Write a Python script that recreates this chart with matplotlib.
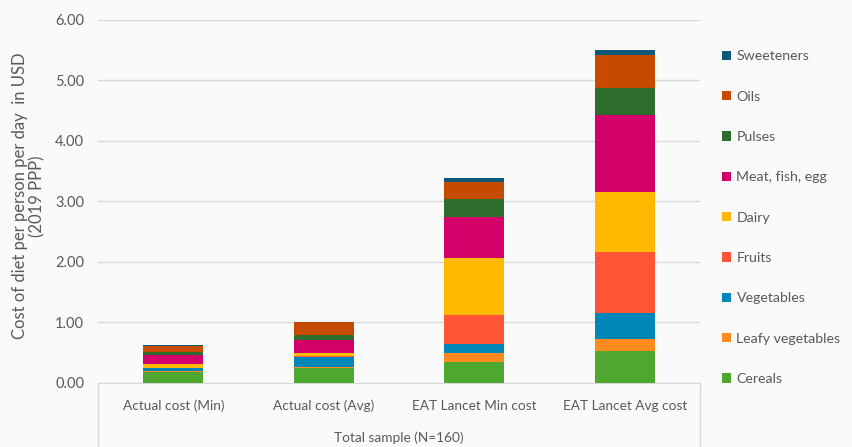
import numpy as np
import matplotlib
matplotlib.use('Agg')
import matplotlib.pyplot as plt
from matplotlib.patches import Patch
from matplotlib.lines import Line2D

plt.rcParams['font.family'] = ['Lato', 'DejaVu Sans']

# 식품군별 하루 식단 비용 (USD, 2019 PPP)
categories = ['Actual cost (Min)', 'Actual cost (Avg)', 'EAT Lancet Min cost', 'EAT Lancet Avg cost']
groups = ['Cereals', 'Leafy vegetables', 'Vegetables', 'Fruits', 'Dairy',
          'Meat, fish, egg', 'Pulses', 'Oils', 'Sweeteners']

cereals    = [0.18, 0.25, 0.35, 0.53]
leafy_veg  = [0.01, 0.01, 0.145, 0.19]
vegetables = [0.05, 0.17, 0.155, 0.435]
fruits     = [0.01, 0.01, 0.47, 1.01]
dairy      = [0.065, 0.055, 0.95, 0.99]
meat       = [0.15, 0.21, 0.67, 1.27]
pulses     = [0.05, 0.08, 0.30, 0.455]
oils       = [0.10, 0.215, 0.29, 0.54]
sweeteners = [0.01, 0.005, 0.055, 0.08]

colors = ['#4EA72E', '#FF8A1E', '#0086B8', '#FF5436', '#FFBA00',
          '#D4006A', '#2D6E2D', '#C64A00', '#0D5A78']

series = [cereals, leafy_veg, vegetables, fruits, dairy, meat, pulses, oils, sweeteners]

bg = '#FAFAFA'
txt = '#595959'
fig = plt.figure(figsize=(8.53, 4.47), dpi=100, facecolor=bg)
ax = fig.add_axes([0.1149, 0.1432, 0.7057, 0.8121], facecolor=bg)

x = np.arange(len(categories))
bottom = np.zeros(len(categories))
for vals, c in zip(series, colors):
    ax.bar(x, vals, width=0.4, bottom=bottom, color=c, zorder=3)
    bottom += np.array(vals)

ax.set_xlim(-0.5, 3.5)
ax.set_ylim(0, 6)
ax.set_yticks(np.arange(0, 6.01, 1))
ax.set_yticklabels(['%.2f' % v for v in np.arange(0, 6.01, 1)])
ax.grid(axis='y', color='#D9D9D9', lw=1, zorder=0)
ax.set_xticks(x)
ax.set_xticklabels(categories, fontsize=9.8)
ax.tick_params(axis='both', length=0, colors=txt)
ax.tick_params(axis='y', pad=10, labelsize=10.5)
ax.tick_params(axis='x', pad=12)
for s in ['top', 'right', 'left']:
    ax.spines[s].set_visible(False)
ax.spines['bottom'].set_color('#D9D9D9')

ax.set_ylabel('Cost of diet per person per day  in USD\n(2019 PPP)', color=txt,
              fontsize=12, linespacing=1.1)
ax.yaxis.set_label_coords(-0.088, 0.515)

# 카테고리 축 테두리
for xx in [-0.5, 3.5]:
    ax.add_line(Line2D([xx, xx], [0, -0.2], transform=ax.get_xaxis_transform(),
                       color='#D9D9D9', lw=1, clip_on=False))
ax.text(0.5, -0.152, 'Total sample (N=160)', transform=ax.transAxes,
        ha='center', va='center', color=txt, fontsize=9.8)

handles = [Patch(facecolor=c, label=g) for g, c in zip(groups, colors)][::-1]
leg = fig.legend(handles=handles, loc='upper left', bbox_to_anchor=(0.831, 0.916),
                 frameon=False, fontsize=10.2, labelspacing=2.0,
                 handlelength=0.65, handleheight=0.65, handletextpad=0.4,
                 labelcolor=txt)

fig.savefig('out.png', dpi=100, facecolor=bg)
